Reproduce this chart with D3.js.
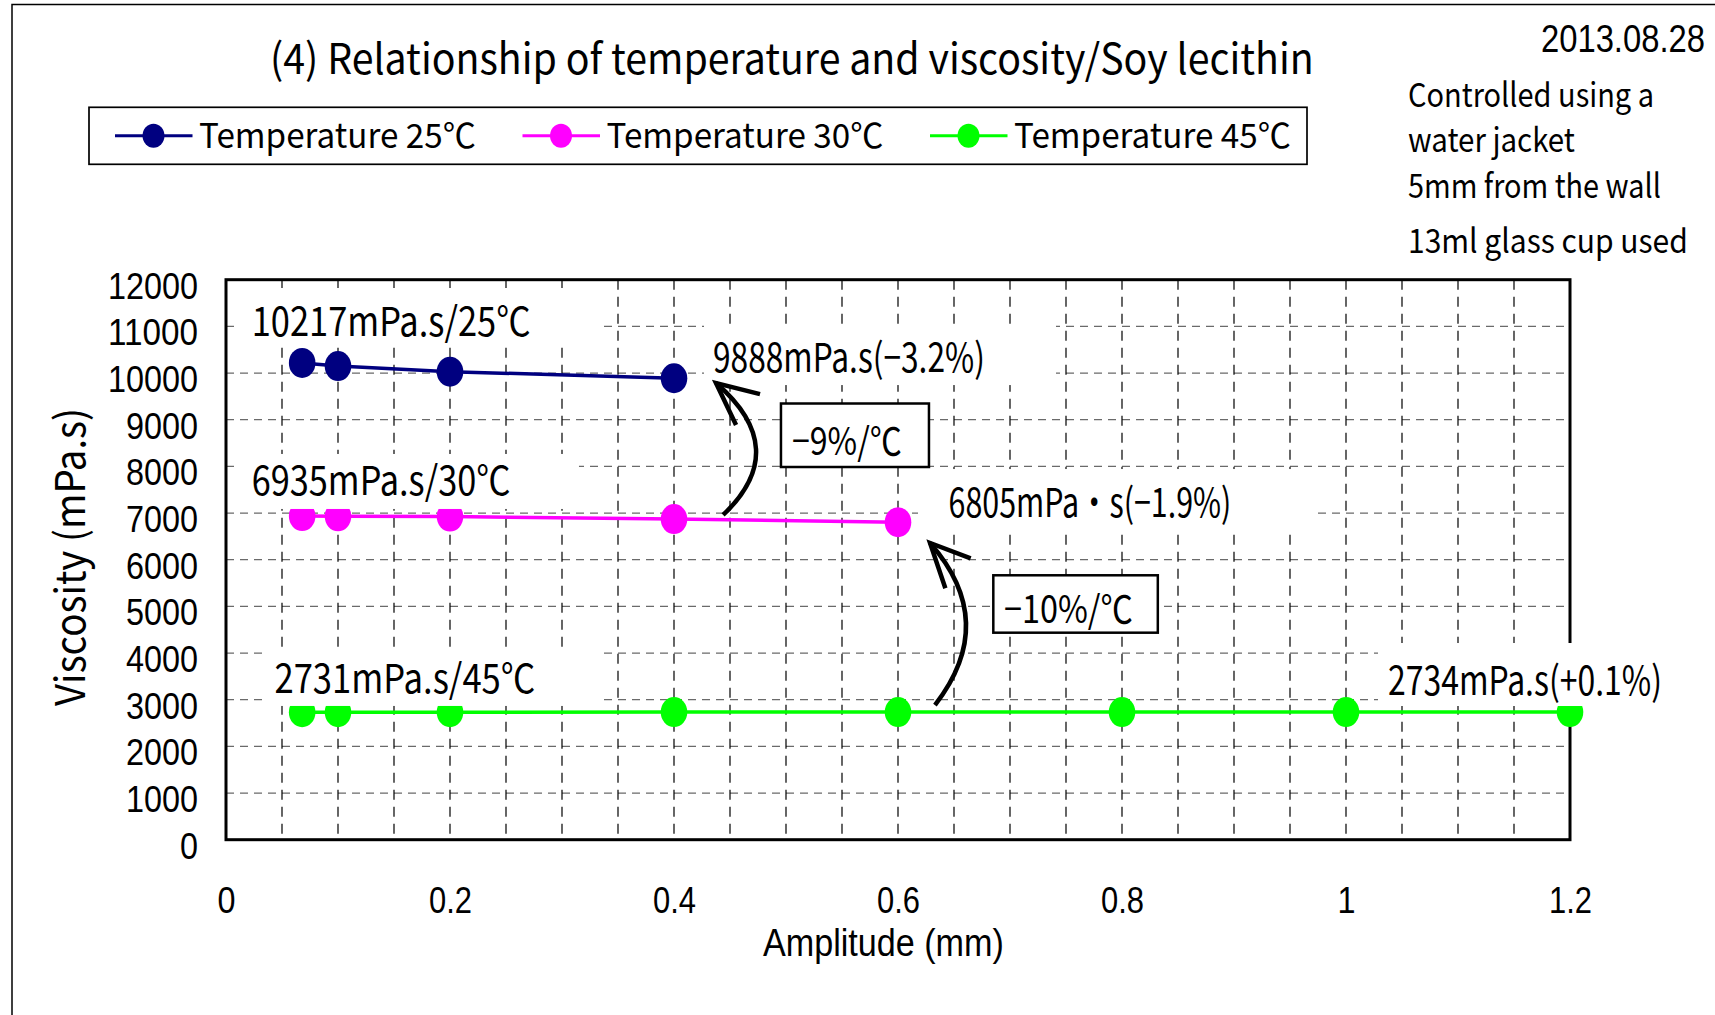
<!DOCTYPE html>
<html><head><meta charset="utf-8">
<script src="https://cdn.jsdelivr.net/npm/d3@7"></script>
<style>html,body{margin:0;padding:0;background:#fff;overflow:hidden}</style>
</head><body>
<svg id="chart" width="1715" height="1015"></svg>
<script>
// ---------- data ----------
const titleText = "(4) Relationship of temperature and viscosity/Soy lecithin";
const dateText = "2013.08.28";
const noteLines = ["Controlled using a", "water jacket", "5mm from the wall", "13ml glass cup used"];
const seriesNames = ["Temperature 25℃", "Temperature 30℃", "Temperature 45℃"];
const amplitudes25 = [0.068, 0.1, 0.2, 0.4];
const viscosity25 = [10217, 10150, 10030, 9888];
const amplitudes30 = [0.068, 0.1, 0.2, 0.4, 0.6];
const viscosity30 = [6935, 6930, 6925, 6870, 6805];
const amplitudes45 = [0.068, 0.1, 0.2, 0.4, 0.6, 0.8, 1.0, 1.2];
const viscosity45 = [2731, 2731, 2732, 2735, 2734, 2736, 2735, 2734];
const xTicks = [0, 0.2, 0.4, 0.6, 0.8, 1, 1.2];
const yTicks = [0, 1000, 2000, 3000, 4000, 5000, 6000, 7000, 8000, 9000, 10000, 11000, 12000];
const xTitle = "Amplitude (mm)";
const yTitle = "Viscosity (mPa.s)";
const pointLabels = ["10217mPa.s/25℃", "6935mPa.s/30℃", "2731mPa.s/45℃",
                     "9888mPa.s(−3.2%)", "6805mPa・s(−1.9%)", "2734mPa.s(+0.1%)"];
const rateLabels = ["−9%/℃", "−10%/℃"];

// ---------- layout / style ----------
const colors = ["#000080", "#FF00FF", "#00FF00"];
const TICK = "'Liberation Sans',Arial,sans-serif";
const SANS = "'Noto Sans CJK JP','Noto Sans',sans-serif";

const svg = d3.select("#chart");
const x = d3.scaleLinear().domain([0, 1.2]).range([226, 1570]);
const y = d3.scaleLinear().domain([0, 12000]).range([839.7, 279.7]);

// text whose width is fitted to `len` by shrinking the font and stretching it back vertically
function txt(g, s, px, py, o) {
  const t = g.append("text").attr("x", 0).attr("y", 0).text(s)
    .attr("font-family", o.ff).attr("font-size", o.fs).attr("fill", "#000")
    .attr("text-anchor", o.anchor || "start");
  let k = 1;
  if (o.len) {
    const nat = t.node().getComputedTextLength();
    if (nat > 0) k = o.len / nat;
    t.attr("font-size", o.fs * k);
  }
  const rot = o.rot ? ` rotate(${o.rot})` : "";
  t.attr("transform", `translate(${px},${py})${rot} scale(1,${1 / k})`);
  return t;
}

// outer frame
svg.append("rect").attr("x", 12).attr("y", 4.5).attr("width", 2000).attr("height", 2000)
  .attr("fill", "none").attr("stroke", "#000").attr("stroke-width", 1.5);

// title, date, notes
txt(svg, titleText, 270, 74, {ff: SANS, fs: 42, len: 1044});
txt(svg, dateText, 1541, 52, {ff: TICK, fs: 38, len: 164});
const noteBase = [107, 152, 198, 253];
const noteLen = [246, 167, 253, 280];
noteLines.forEach((s, i) => txt(svg, s, 1408, noteBase[i], {ff: SANS, fs: 33, len: noteLen[i]}));

// legend
svg.append("rect").attr("x", 89).attr("y", 107.3).attr("width", 1218).attr("height", 57)
  .attr("fill", "#fff").attr("stroke", "#000").attr("stroke-width", 1.7);
seriesNames.forEach((s, i) => {
  const bx = 115 + 407.5 * i;
  svg.append("line").attr("x1", bx).attr("x2", bx + 77.5).attr("y1", 135.7).attr("y2", 135.7)
    .attr("stroke", colors[i]).attr("stroke-width", 3);
  svg.append("ellipse").attr("cx", bx + 38.5).attr("cy", 135.7).attr("rx", 11).attr("ry", 12)
    .attr("fill", colors[i]);
  txt(svg, s, bx + 84, 148, {ff: SANS, fs: 34, len: 277});
});

// gridlines
const hGrid = yTicks.filter(v => v > 0 && v < 12000);
svg.append("g").selectAll("line").data(hGrid).join("line")
  .attr("x1", x(0)).attr("x2", x(1.2)).attr("y1", d => y(d)).attr("y2", d => y(d))
  .attr("stroke", "#6a6a6a").attr("stroke-width", 1.3).attr("stroke-dasharray", "8,6");
const vGrid = d3.range(1, 24).map(i => +(i * 0.05).toFixed(2));
svg.append("g").selectAll("line").data(vGrid).join("line")
  .attr("x1", d => x(d)).attr("x2", d => x(d)).attr("y1", y(12000)).attr("y2", y(0))
  .attr("stroke", "#000").attr("stroke-width", 1.2).attr("stroke-dasharray", "10,7");

// plot border
svg.append("rect").attr("x", x(0)).attr("y", y(12000)).attr("width", x(1.2) - x(0))
  .attr("height", y(0) - y(12000)).attr("fill", "none").attr("stroke", "#000").attr("stroke-width", 3);

// axes (labels only)
const yAxis = svg.append("g").attr("transform", `translate(${x(0)},0)`)
  .call(d3.axisLeft(y).tickValues(yTicks).tickSize(0).tickPadding(28).tickFormat(d3.format("d")));
yAxis.select(".domain").remove();
yAxis.selectAll("text").attr("dy", null).attr("y", 18.5)
  .attr("font-family", TICK).attr("font-size", 37).attr("fill", "#000")
  .each(function(d) { const s = String(d); d3.select(this).attr("textLength", 18 * s.length).attr("lengthAdjust", "spacingAndGlyphs"); });

const xAxis = svg.append("g").attr("transform", `translate(0,${y(0)})`)
  .call(d3.axisBottom(x).tickValues(xTicks).tickSize(0).tickFormat(d => String(d)));
xAxis.select(".domain").remove();
xAxis.selectAll("text").attr("dy", null).attr("y", 73.6)
  .attr("font-family", TICK).attr("font-size", 36).attr("fill", "#000")
  .each(function(d) { const s = String(d); const n = s.replace(".", "").length; const dots = s.length - n;
    d3.select(this).attr("textLength", 18 * n + 7 * dots).attr("lengthAdjust", "spacingAndGlyphs"); });

txt(svg, xTitle, 883.4, 956, {ff: TICK, fs: 38, len: 241, anchor: "middle"});
txt(svg, yTitle, 85, 557, {ff: SANS, fs: 41, len: 298, anchor: "middle", rot: -90});

// series
const series = [
  {xs: amplitudes25, ys: viscosity25},
  {xs: amplitudes30, ys: viscosity30},
  {xs: amplitudes45, ys: viscosity45}
].map((s, i) => ({pts: d3.zip(s.xs, s.ys), color: colors[i]}));
const line = d3.line().x(d => x(d[0])).y(d => y(d[1]));
series.forEach(s => {
  svg.append("path").datum(s.pts).attr("d", line).attr("fill", "none")
    .attr("stroke", s.color).attr("stroke-width", 3.5);
  svg.append("g").selectAll("ellipse").data(s.pts).join("ellipse")
    .attr("cx", d => x(d[0])).attr("cy", d => y(d[1])).attr("rx", 13.3).attr("ry", 15)
    .attr("fill", s.color);
});

// point labels (white boxes anchored to first/last point of a series)
const labelLayout = [
  {s: 0, p: 0,  tdx: -50.5, tdy: -26.9, bx: -63.2, by: -74.9, bw: 363, bh: 59, len: 279},
  {s: 1, p: 0,  tdx: -50.5, tdy: -21.1, bx: -64.2, by: -62.1, bw: 341, bh: 55, len: 259},
  {s: 2, p: 0,  tdx: -27.7, tdy: -19.0, bx: -39.2, by: -62.3, bw: 340, bh: 56, len: 261},
  {s: 0, p: -1, tdx: 39,    tdy: -6.5,  bx: 30,    by: -54.2, bw: 352, bh: 61, len: 272},
  {s: 1, p: -1, tdx: 50.5,  tdy: -5.4,  bx: 20,    by: -53.1, bw: 399, bh: 59, len: 283},
  {s: 2, p: -1, tdx: -182,  tdy: -17.1, bx: -192,  by: -69.1, bw: 310, bh: 63, len: 274}
];
labelLayout.forEach((L, i) => {
  const pts = series[L.s].pts;
  const pt = L.p < 0 ? pts[pts.length - 1] : pts[L.p];
  const ax = x(pt[0]), ay = y(pt[1]);
  svg.append("rect").attr("x", ax + L.bx).attr("y", ay + L.by).attr("width", L.bw).attr("height", L.bh)
    .attr("fill", "#fff");
  txt(svg, pointLabels[i], ax + L.tdx, ay + L.tdy, {ff: SANS, fs: 40, len: L.len});
});

// rate boxes (data coords of top-left corner)
const rateLayout = [
  {a: 0.4955, v: 9347, w: 148, h: 63.5, tx: 11, ty: 51, len: 110},
  {a: 0.6851, v: 5666, w: 164.5, h: 57.4, tx: 10.7, ty: 48, len: 129}
];
rateLayout.forEach((R, i) => {
  const bx = x(R.a), by = y(R.v);
  svg.append("rect").attr("x", bx).attr("y", by).attr("width", R.w).attr("height", R.h)
    .attr("fill", "#fff").attr("stroke", "#000").attr("stroke-width", 2.5);
  txt(svg, rateLabels[i], bx + R.tx, by + R.ty, {ff: SANS, fs: 38, len: R.len});
});

// curved arrows (data coordinates)
const arrows = [
  {from: [0.4438, 6958], ctrl: [0.5058, 8372], to: [0.4375, 9786], armA: [0.4768, 9549], armB: [0.4554, 8885]},
  {from: [0.6330, 2886], ctrl: [0.6906, 4665], to: [0.6286, 6358], armA: [0.6649, 6030], armB: [0.6423, 5387]}
];
const P = d => [x(d[0]), y(d[1])];
arrows.forEach(A => {
  const f = P(A.from), c = P(A.ctrl), t = P(A.to), a1 = P(A.armA), a2 = P(A.armB);
  const p = d3.path();
  p.moveTo(f[0], f[1]); p.quadraticCurveTo(c[0], c[1], t[0], t[1]);
  svg.append("path").attr("d", p.toString()).attr("fill", "none").attr("stroke", "#000").attr("stroke-width", 4.5);
  const h = d3.path();
  h.moveTo(a1[0], a1[1]); h.lineTo(t[0], t[1]); h.lineTo(a2[0], a2[1]);
  svg.append("path").attr("d", h.toString()).attr("fill", "none").attr("stroke", "#000")
    .attr("stroke-width", 4.5).attr("stroke-linejoin", "miter");
});
</script>
</body></html>
